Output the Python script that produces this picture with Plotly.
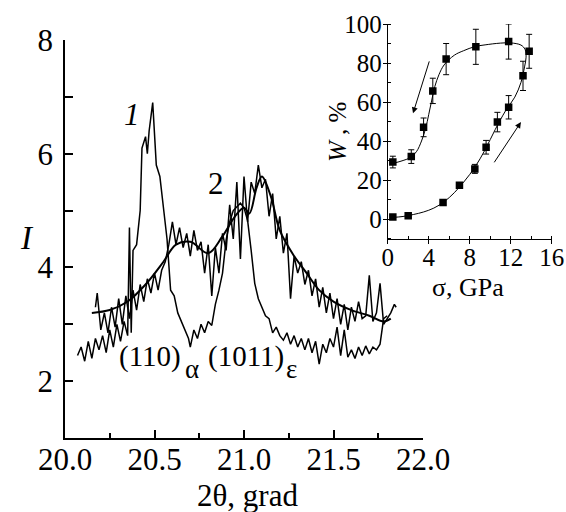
import plotly.graph_objects as go

# ---------------- main panel data (2theta, intensity) ----------------
c1_x = [20.07, 20.09, 20.11, 20.13, 20.15, 20.17, 20.19, 20.21, 20.23, 20.25,
        20.27, 20.29, 20.31, 20.33, 20.35, 20.36, 20.37, 20.38, 20.40, 20.42,
        20.43, 20.45, 20.46, 20.47, 20.49, 20.50, 20.51, 20.53, 20.55, 20.57,
        20.59, 20.61, 20.63, 20.65, 20.67, 20.69, 20.70, 20.72, 20.74, 20.76,
        20.78, 20.80, 20.82, 20.84, 20.86, 20.88, 20.90, 20.92, 20.94, 20.96,
        20.98, 21.00, 21.02, 21.04, 21.06, 21.08, 21.10, 21.12, 21.14, 21.16,
        21.18, 21.20, 21.22, 21.24, 21.26, 21.28, 21.30, 21.32, 21.34, 21.36,
        21.38, 21.40, 21.42, 21.44, 21.46, 21.48, 21.50, 21.52, 21.54, 21.56,
        21.58, 21.60, 21.62, 21.64, 21.66, 21.68, 21.70, 21.72, 21.74, 21.76,
        21.78, 21.80]
c1_y = [2.45, 2.60, 2.35, 2.70, 2.40, 2.75, 2.55, 2.80, 2.50, 2.90,
        2.60, 3.00, 2.70, 3.05, 2.80, 4.70, 2.85, 4.30, 4.40, 5.00,
        6.10, 6.30, 6.00, 6.40, 6.90, 6.40, 5.80, 5.60, 5.00, 4.50,
        3.60, 3.50, 3.20, 3.05, 2.90, 2.75, 2.60, 2.90, 2.75, 3.00,
        2.85, 3.05, 2.98, 3.35, 3.60, 3.90, 4.48, 4.80, 5.00, 5.06,
        5.13, 5.05, 4.83, 4.30, 3.72, 3.45, 3.30, 3.15, 3.10, 2.85,
        2.95, 2.80, 2.72, 2.85, 2.65, 2.80, 2.60, 2.75, 2.55, 2.75,
        2.50, 2.70, 2.30, 2.65, 2.50, 2.75, 2.60, 2.95, 2.45, 2.90,
        2.42, 2.55, 2.40, 2.60, 2.45, 2.62, 2.48, 2.60, 2.55, 2.65,
        3.10, 3.15]

c2_x = [20.17, 20.18, 20.20, 20.22, 20.24, 20.26, 20.28, 20.30, 20.32, 20.34,
        20.36, 20.38, 20.40, 20.42, 20.44, 20.46, 20.48, 20.50, 20.52, 20.54,
        20.56, 20.58, 20.60, 20.62, 20.64, 20.66, 20.68, 20.70, 20.72, 20.74,
        20.76, 20.78, 20.80, 20.82, 20.84, 20.86, 20.88, 20.90, 20.92, 20.94,
        20.96, 20.98, 21.00, 21.02, 21.04, 21.06, 21.08, 21.10, 21.12, 21.14,
        21.16, 21.18, 21.20, 21.22, 21.24, 21.26, 21.28, 21.30, 21.32, 21.34,
        21.36, 21.38, 21.40, 21.42, 21.44, 21.46, 21.48, 21.50, 21.52, 21.54,
        21.56, 21.58, 21.60, 21.62, 21.64, 21.66, 21.68, 21.70, 21.72, 21.74,
        21.76, 21.78, 21.80, 21.82, 21.84, 21.85]
c2_y = [3.30, 3.55, 2.90, 3.20, 2.85, 3.30, 2.95, 3.45, 3.00, 3.50,
        3.10, 3.60, 3.25, 3.70, 3.40, 3.80, 3.55, 3.90, 3.60, 3.95,
        4.10, 4.40, 4.80, 4.40, 4.70, 4.35, 4.60, 4.20, 4.65, 4.30,
        4.45, 3.90, 4.40, 3.50, 4.35, 3.90, 4.60, 4.30, 5.10, 4.50,
        5.50, 4.15, 5.60, 4.80, 5.50, 5.30, 5.80, 5.40, 5.55, 4.90,
        5.30, 4.50, 4.90, 4.25, 4.60, 3.45, 4.20, 3.90, 4.10, 3.70,
        3.95, 3.50, 3.80, 3.30, 3.65, 3.20, 3.55, 3.10, 3.45, 3.00,
        3.35, 2.90, 3.30, 3.05, 3.40, 3.10, 3.15, 3.86, 3.05, 3.20,
        3.72, 3.00, 3.10, 3.20, 3.35, 3.30]

c2s_x = [20.15, 20.25, 20.35, 20.45, 20.55, 20.62, 20.70, 20.80, 20.88, 20.95,
         21.00, 21.03, 21.07, 21.10, 21.15, 21.20, 21.28, 21.35, 21.42, 21.50,
         21.60, 21.70, 21.78, 21.82]
c2s_y = [3.20, 3.25, 3.40, 3.70, 4.10, 4.40, 4.45, 4.25, 4.55, 4.90,
         5.05, 4.95, 5.40, 5.60, 5.25, 4.65, 4.20, 3.90, 3.60, 3.40,
         3.25, 3.15, 3.05, 3.10]

# peak labels: (text, 2theta of left edge, intensity of centre, font size)
peak_labels = [("(110)", 20.296, 2.43, 29), ("α", 20.662, 2.22, 27),
               ("(1011)", 20.793, 2.43, 29), ("ε", 21.231, 2.21, 27)]

# ---------------- inset data (sigma, W %) ----------------
load_s = [0.5, 2.0, 5.4, 7.0, 8.5, 9.6, 10.7, 11.8, 13.2, 13.8]
load_w = [1.0, 1.7, 8.5, 17.3, 25.7, 36.8, 49.7, 57.3, 73.4, 86.0]
load_e = [1.0, 1.0, 1.0, 1.0, 2.3, 3.5, 5.0, 6.0, 7.5, 8.7]
unl_s = [0.5, 2.3, 3.5, 4.4, 5.7, 8.6, 11.8]
unl_w = [29.2, 32.0, 47.0, 65.7, 82.0, 88.3, 91.0]
unl_e = [3.0, 3.5, 4.8, 6.5, 8.0, 9.0, 9.0]

fit_s = [0.5, 1.5, 2.5, 3.5, 4.5, 5.5, 6.5, 7.5, 8.5, 9.5, 10.5, 11.5, 12.4,
         13.0, 13.35, 13.5, 13.4, 13.0, 12.0, 11.0, 9.5, 8.5, 7.4, 6.5, 5.5,
         5.0, 4.6, 4.3, 4.0, 3.7, 3.3, 2.8, 2.2, 1.5, 0.5]
fit_w = [0.8, 1.3, 2.3, 3.6, 5.6, 8.8, 13.5, 19.5, 26.5, 35.5, 46.0, 55.5, 62.5,
         70.0, 78.0, 83.0, 87.0, 89.2, 90.3, 90.2, 89.3, 88.4, 86.3, 84.0, 79.0,
         74.0, 68.0, 61.0, 53.5, 46.5, 40.0, 34.5, 31.5, 30.0, 28.5]

arrows = [  # (tail sigma, tail W, head sigma, head W)
    (4.1, 81.6, 2.47, 54.2),
    (10.3, 28.3, 13.0, 49.7),
]

W, H = 566, 512
FONT = "Liberation Serif"


def px_x(p):
    return p / W


def px_y(p):
    return 1 - p / H


fig = go.Figure()
line = dict(color="black", width=1.5)
fig.add_trace(go.Scatter(x=c1_x, y=c1_y, mode="lines", line=line, xaxis="x", yaxis="y"))
fig.add_trace(go.Scatter(x=c2_x, y=c2_y, mode="lines", line=line, xaxis="x", yaxis="y"))
fig.add_trace(go.Scatter(x=c2s_x, y=c2s_y, mode="lines", line=dict(color="black", width=2, shape="spline"),
                         xaxis="x", yaxis="y"))

fig.add_trace(go.Scatter(x=fit_s, y=fit_w, mode="lines",
                         line=dict(color="black", width=1, shape="spline", smoothing=1.0),
                         xaxis="x2", yaxis="y2"))
for xs, ys, es in [(load_s, load_w, load_e), (unl_s, unl_w, unl_e)]:
    fig.add_trace(go.Scatter(x=xs, y=ys, mode="markers",
                             marker=dict(symbol="square", size=7.5, color="black"),
                             error_y=dict(type="data", array=es, color="black", thickness=1, width=3),
                             xaxis="x2", yaxis="y2"))

ann = []
ann.append(dict(x=20.375, y=6.69, xref="x", yref="y", text="<i>1</i>", showarrow=False,
                xanchor="center", yanchor="middle", font=dict(size=31, family=FONT, color="black")))
ann.append(dict(x=20.845, y=5.48, xref="x", yref="y", text="2", showarrow=False,
                xanchor="center", yanchor="middle", font=dict(size=31, family=FONT, color="black")))
for txt, lx, ly, fs in peak_labels:
    ann.append(dict(x=lx, y=ly, xref="x", yref="y", xanchor="left", yanchor="middle",
                    text=txt, showarrow=False, borderpad=0,
                    font=dict(size=fs, family=FONT, color="black")))
# axis titles
ann.append(dict(x=px_x(27), y=px_y(238), xref="paper", yref="paper", text="<i>I</i>",
                xanchor="center", yanchor="middle",
                showarrow=False, font=dict(size=33, family=FONT, color="black")))
ann.append(dict(x=px_x(247), y=px_y(495), xref="paper", yref="paper", text="2θ, grad",
                xanchor="center", yanchor="middle",
                showarrow=False, font=dict(size=31, family=FONT, color="black")))
ann.append(dict(x=px_x(337), y=px_y(132), xref="paper", yref="paper", text="<i>W</i> , %",
                xanchor="center", yanchor="middle",
                textangle=-90, showarrow=False, font=dict(size=25, family=FONT, color="black")))
ann.append(dict(x=px_x(468), y=px_y(287), xref="paper", yref="paper", text="σ, GPa",
                xanchor="center", yanchor="middle",
                showarrow=False, font=dict(size=26, family=FONT, color="black")))
for tx, ty, hx, hy in arrows:
    ann.append(dict(x=hx, y=hy, ax=tx, ay=ty, xref="x2", yref="y2", axref="x2", ayref="y2",
                    text="", showarrow=True, arrowhead=2, arrowsize=1.2, arrowwidth=1,
                    arrowcolor="black"))

axis_common = dict(showline=True, linecolor="black", showgrid=False, zeroline=False,
                   tickcolor="black", automargin=False, ticklabeloverflow="allow")

fig.update_layout(
    width=W, height=H, margin=dict(l=0, r=0, t=0, b=0, autoexpand=False),
    paper_bgcolor="white", plot_bgcolor="rgba(0,0,0,0)", showlegend=False,
    xaxis=dict(axis_common, domain=[px_x(65), px_x(423)], range=[20, 22], dtick=0.5, tick0=20,
               tickformat=".1f", ticks="inside", ticklen=8, tickwidth=1.5, linewidth=1.5,
               tickfont=dict(family=FONT, size=31, color="black"), ticklabelstandoff=-7,
               minor=dict(dtick=0.25, ticks="inside", ticklen=5, tickwidth=1.5, tickcolor="black"),
               anchor="y"),
    yaxis=dict(axis_common, domain=[px_y(438), px_y(40)], range=[1, 8], dtick=2, tick0=0,
               ticks="inside", ticklen=8, tickwidth=1.5, linewidth=1.5,
               tickfont=dict(family=FONT, size=31, color="black"), ticklabelstandoff=4,
               minor=dict(dtick=1, ticks="inside", ticklen=8, tickwidth=1.5, tickcolor="black"),
               anchor="x"),
    xaxis2=dict(axis_common, domain=[px_x(387.7), px_x(551.7)], range=[0, 16], dtick=4, tick0=0,
                ticks="outside", ticklen=4, tickwidth=1, linewidth=1,
                tickfont=dict(family=FONT, size=25, color="black"), ticklabelstandoff=-8,
                minor=dict(dtick=2, ticks="inside", ticklen=3, tickwidth=1, tickcolor="black"),
                anchor="y2"),
    yaxis2=dict(axis_common, domain=[px_y(238.5), px_y(24)], range=[-10, 100], dtick=20, tick0=0,
                ticks="outside", ticklen=4, tickwidth=1, linewidth=1,
                tickfont=dict(family=FONT, size=25, color="black"), ticklabelstandoff=-4,
                minor=dict(dtick=10, ticks="inside", ticklen=3, tickwidth=1, tickcolor="black"),
                anchor="x2"),
    annotations=ann,
)

# remove the browser's default 8px page margin so the figure fills the window exactly
fig.write_html("out.html", config={"displayModeBar": False},
               post_script="document.body.style.margin='0';document.body.style.overflow='hidden';")
